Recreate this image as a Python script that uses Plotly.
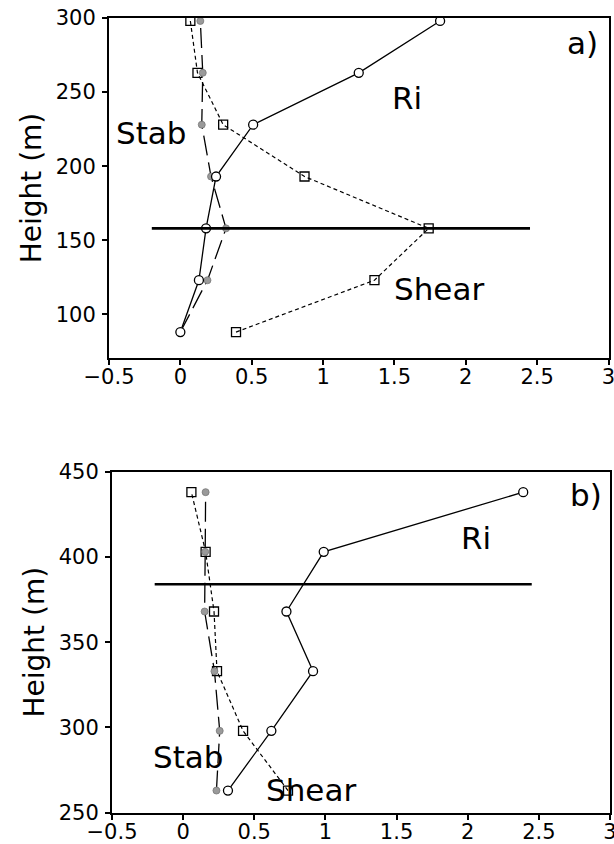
import plotly.graph_objects as go

# Panel a
height_a = [88, 123, 158, 193, 228, 263, 298]
ri_a = [0.0, 0.13, 0.18, 0.25, 0.51, 1.25, 1.82]
shear_a = [0.39, 1.36, 1.74, 0.87, 0.30, 0.12, 0.07]
stab_a = [0.0, 0.19, 0.32, 0.215, 0.15, 0.157, 0.14]
hline_a_x = [-0.2, 2.45]
hline_a_y = [158, 158]

# Panel b
height_b = [263, 298, 333, 368, 403, 438]
ri_b = [0.315, 0.62, 0.913, 0.726, 0.988, 2.39]
shear_b = [0.737, 0.421, 0.238, 0.217, 0.158, 0.058]
stab_b = [0.234, 0.257, 0.22, 0.151, 0.155, 0.158]
hline_b_x = [-0.2, 2.45]
hline_b_y = [384, 384]

x_ticks = [-0.5, 0, 0.5, 1, 1.5, 2, 2.5, 3]
x_ticklabels = ["−0.5", "0", "0.5", "1", "1.5", "2", "2.5", "3"]
y_ticks_a = [100, 150, 200, 250, 300]
y_ticks_b = [250, 300, 350, 400, 450]

FONT = "DejaVu Sans"
fig = go.Figure()

def add_panel(xa, ya, h, ri, shear, stab, hx, hy):
    fig.add_trace(go.Scatter(x=shear, y=h, mode="lines+markers", xaxis=xa, yaxis=ya,
                             line=dict(color="black", width=1.2, dash="4px,3px"),
                             marker=dict(symbol="square-open", size=9, color="black", line=dict(width=1.3)),
                             showlegend=False, name="Shear"))
    fig.add_trace(go.Scatter(x=stab, y=h, mode="lines+markers", xaxis=xa, yaxis=ya,
                             line=dict(color="black", width=1.3, dash="20px,7px"),
                             marker=dict(symbol="circle", size=7, color="#9a9a9a",
                                         line=dict(width=0.8, color="#777777")),
                             showlegend=False, name="Stab"))
    fig.add_trace(go.Scatter(x=ri, y=h, mode="lines+markers", xaxis=xa, yaxis=ya,
                             line=dict(color="black", width=1.3),
                             marker=dict(symbol="circle", size=9, color="white", line=dict(width=1.3, color="black")),
                             showlegend=False, name="Ri"))
    fig.add_trace(go.Scatter(x=hx, y=hy, mode="lines", xaxis=xa, yaxis=ya,
                             line=dict(color="black", width=2.6), showlegend=False, hoverinfo="skip"))

add_panel("x", "y", height_a, ri_a, shear_a, stab_a, hline_a_x, hline_a_y)
add_panel("x2", "y2", height_b, ri_b, shear_b, stab_b, hline_b_x, hline_b_y)

axis_common = dict(showgrid=False, zeroline=False, showline=True, mirror=True, automargin=False,
                   linecolor="black", linewidth=2, ticks="outside", ticklen=5, tickwidth=1.5,
                   tickcolor="black", ticklabeloverflow="allow",
                   tickfont=dict(family=FONT, size=21, color="black"))

fig.update_layout(
    width=614, height=844, margin=dict(l=0, r=0, t=0, b=0),
    paper_bgcolor="white", plot_bgcolor="white",
    xaxis=dict(domain=[109/614, 608.5/614], range=[-0.5, 3], tickvals=x_ticks, ticktext=x_ticklabels,
               anchor="y", ticklabelstandoff=-6, **axis_common),
    yaxis=dict(domain=[1-358/844, 1-18/844], range=[70.5, 300], tickvals=y_ticks_a, anchor="x",
               ticklabelstandoff=2,
               title=dict(text="Height (m)", font=dict(family=FONT, size=28, color="black"), standoff=6),
               **axis_common),
    xaxis2=dict(domain=[112/614, 610/614], range=[-0.5, 3], tickvals=x_ticks, ticktext=x_ticklabels,
                anchor="y2", ticklabelstandoff=-6, **axis_common),
    yaxis2=dict(domain=[1-812.7/844, 1-471.7/844], range=[250, 450], tickvals=y_ticks_b, anchor="x2",
                ticklabelstandoff=2,
                title=dict(text="Height (m)", font=dict(family=FONT, size=28, color="black"), standoff=6),
                **axis_common),
)

labels = [
    ("x", "y", -0.2, 222.6, "Stab"), ("x", "y", 1.59, 246.2, "Ri"),
    ("x", "y", 1.81, 117, "Shear"), ("x", "y", 2.82, 283.2, "a)"),
    ("x2", "y2", 0.04, 282.7, "Stab"), ("x2", "y2", 0.896, 263.3, "Shear"),
    ("x2", "y2", 2.056, 411.1, "Ri"), ("x2", "y2", 2.83, 436.3, "b)"),
]
for xr, yr, x, y, t in labels:
    fig.add_annotation(x=x, y=y, xref=xr, yref=yr, text=t, showarrow=False,
                       font=dict(family=FONT, size=31, color="black"))

fig.write_html("out.html")
